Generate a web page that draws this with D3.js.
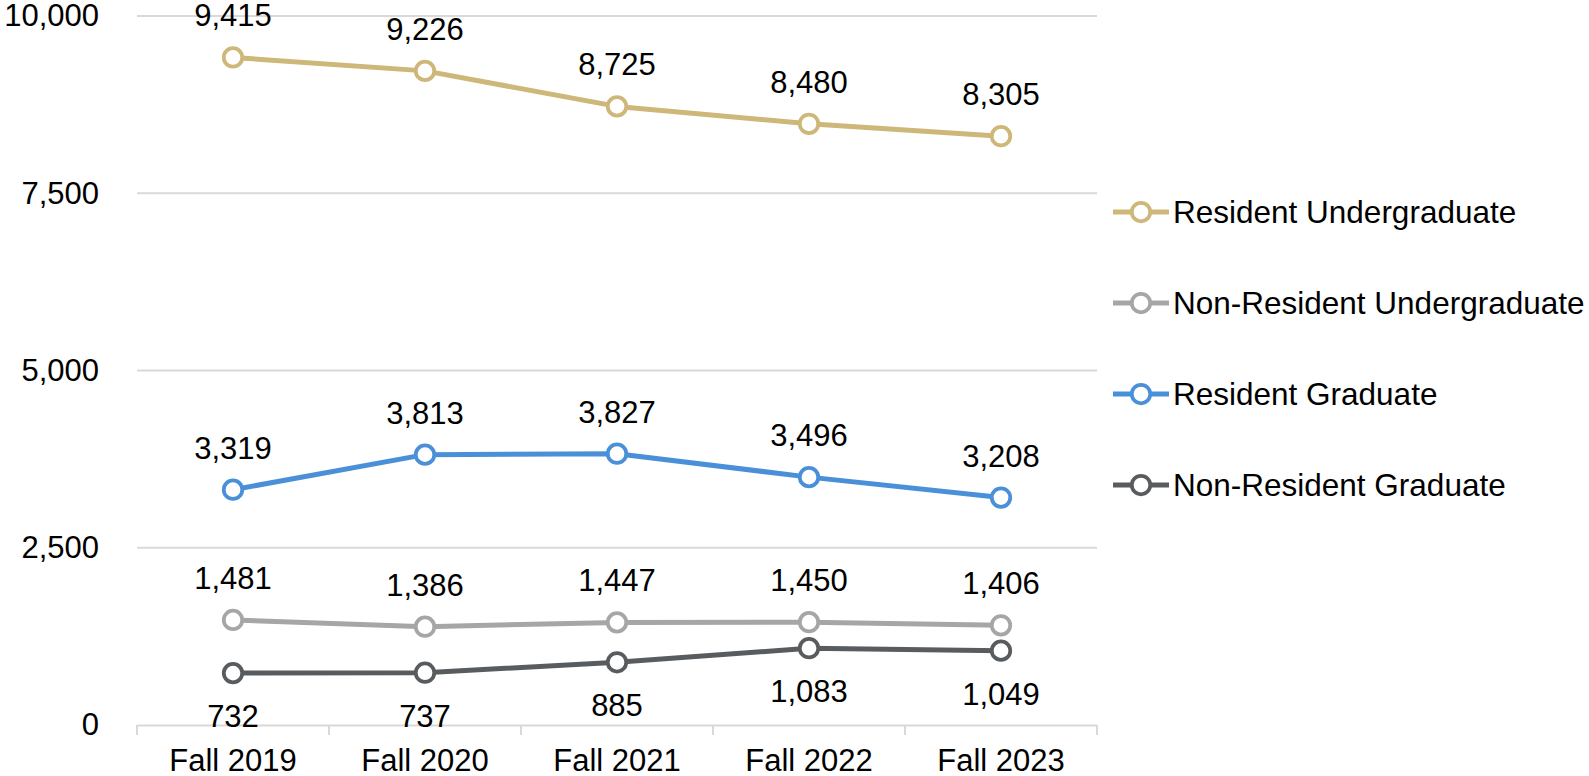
<!DOCTYPE html>
<html>
<head>
<meta charset="utf-8">
<script src="https://cdn.jsdelivr.net/npm/d3@7"></script>
<style>
  html, body { margin: 0; padding: 0; background: #fff; }
  svg { display: block; font-family: "Liberation Sans", Arial, sans-serif; }
</style>
</head>
<body>
<svg id="chart" width="1589" height="776"></svg>
<script>
const categories = ["Fall 2019", "Fall 2020", "Fall 2021", "Fall 2022", "Fall 2023"];
const seriesNames = ["Resident Undergraduate", "Non-Resident Undergraduate", "Resident Graduate", "Non-Resident Graduate"];
const residentUndergrad = [9415, 9226, 8725, 8480, 8305];
const nonResidentUndergrad = [1481, 1386, 1447, 1450, 1406];
const residentGrad = [3319, 3813, 3827, 3496, 3208];
const nonResidentGrad = [732, 737, 885, 1083, 1049];
const yTicks = [0, 2500, 5000, 7500, 10000];

const colors = ["#CDB779", "#A6A6A6", "#4A90D9", "#595C5F"];
const labelPos = ["above", "above", "above", "below"];
const seriesValues = [residentUndergrad, nonResidentUndergrad, residentGrad, nonResidentGrad];

const svg = d3.select("#chart");
const plotLeft = 137, plotRight = 1097, plotTop = 16, plotBottom = 725;
const fs = 31;

const x = d3.scaleBand().domain(categories).range([plotLeft, plotRight]).paddingInner(0).paddingOuter(0);
const y = d3.scaleLinear().domain([0, 10000]).range([plotBottom, plotTop]);
const cx = c => x(c) + x.bandwidth() / 2;

// gridlines
svg.append("g").selectAll("line").data(yTicks.filter(t => t > 0)).join("line")
  .attr("x1", plotLeft).attr("x2", plotRight)
  .attr("y1", d => y(d)).attr("y2", d => y(d))
  .attr("stroke", "#D9D9D9").attr("stroke-width", 2);

// y axis labels
const fmt = d3.format(",");
const yAxis = d3.axisLeft(y).tickValues(yTicks).tickFormat(fmt).tickSize(0).tickPadding(38);
const yg = svg.append("g").attr("transform", `translate(${plotLeft},0)`).call(yAxis);
yg.select(".domain").remove();
yg.selectAll("text").attr("font-size", fs).attr("fill", "#000").attr("font-family", "Liberation Sans, Arial, sans-serif");

// x axis
const xAxis = d3.axisBottom(x).tickSize(0).tickPadding(24);
const xg = svg.append("g").attr("transform", `translate(0,${plotBottom})`).call(xAxis);
xg.select(".domain").attr("stroke", "#D9D9D9").attr("stroke-width", 2);
xg.selectAll("text").attr("font-size", fs).attr("fill", "#000").attr("font-family", "Liberation Sans, Arial, sans-serif");
// category separator ticks
const bounds = categories.map(c => x(c)).concat([plotRight]);
svg.append("g").selectAll("line").data(bounds).join("line")
  .attr("x1", d => d).attr("x2", d => d)
  .attr("y1", plotBottom).attr("y2", plotBottom + 10)
  .attr("stroke", "#D9D9D9").attr("stroke-width", 2);

const line = d3.line().x((d, i) => cx(categories[i])).y(d => y(d));

seriesValues.forEach((vals, s) => {
  const g = svg.append("g");
  g.append("path").datum(vals).attr("d", line)
    .attr("fill", "none").attr("stroke", colors[s]).attr("stroke-width", 5)
    .attr("stroke-linejoin", "round");
  g.selectAll("circle").data(vals).join("circle")
    .attr("cx", (d, i) => cx(categories[i])).attr("cy", d => y(d))
    .attr("r", 9.25).attr("fill", "#fff").attr("stroke", colors[s]).attr("stroke-width", 3.75);
  g.selectAll("text").data(vals).join("text")
    .attr("x", (d, i) => cx(categories[i]))
    .attr("y", d => labelPos[s] === "above" ? y(d) - 31 : y(d) + 54)
    .attr("text-anchor", "middle").attr("font-size", fs).attr("fill", "#000")
    .text(d => fmt(d));
});

// legend
const legend = svg.append("g");
const legY = [212, 303, 394, 485];
seriesNames.forEach((name, s) => {
  const row = legend.append("g").attr("transform", `translate(0,${legY[s]})`);
  row.append("line").attr("x1", 1113).attr("x2", 1169).attr("y1", 0).attr("y2", 0)
    .attr("stroke", colors[s]).attr("stroke-width", 5);
  row.append("circle").attr("cx", 1141).attr("cy", 0).attr("r", 9.25)
    .attr("fill", "#fff").attr("stroke", colors[s]).attr("stroke-width", 3.75);
  row.append("text").attr("x", 1173).attr("y", 0).attr("dy", "0.35em")
    .attr("font-size", 31.5).attr("fill", "#000").text(name);
});
</script>
</body>
</html>
